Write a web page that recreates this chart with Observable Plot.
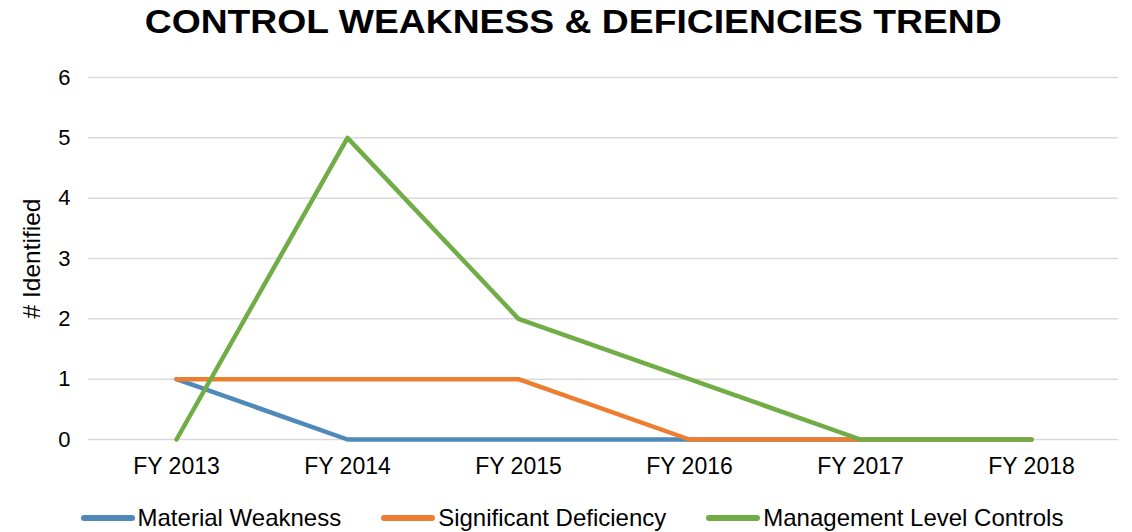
<!DOCTYPE html>
<html>
<head>
<meta charset="utf-8">
<script src="https://cdn.jsdelivr.net/npm/d3@7"></script>
<script src="https://cdn.jsdelivr.net/npm/@observablehq/plot@0.6"></script>
<style>
  html, body { margin: 0; padding: 0; background: #fff; }
  body { width: 1132px; height: 532px; position: relative; overflow: hidden; font-family: "Liberation Sans", Arial, sans-serif; color: #000; }
  #title { position: absolute; top: 3px; left: 0; width: 1146px; text-align: center; }
  #title span { display: inline-block; font-weight: bold; font-size: 33px; line-height: 38px; transform: scaleX(1.13); transform-origin: center; }
  #chart { position: absolute; top: 50px; left: 0; }
  #legend { position: absolute; top: 505px; left: 0; width: 1144px; display: flex; justify-content: center; gap: 40px; font-size: 24px; line-height: 26px; }
  .item { display: flex; align-items: center; }
  .sw { width: 54px; height: 5.5px; border-radius: 3px; margin-right: 3px; }
</style>
</head>
<body>
<div id="title"><span>CONTROL WEAKNESS &amp; DEFICIENCIES TREND</span></div>
<div id="chart"></div>
<div id="legend"></div>
<script>
const years = ["FY 2013", "FY 2014", "FY 2015", "FY 2016", "FY 2017", "FY 2018"];
const seriesNames = ["Material Weakness", "Significant Deficiency", "Management Level Controls"];
const seriesColors = ["#4e89ba", "#ed7d31", "#70ad47"];
const materialWeakness = [1, 0, 0, 0, 0, 0];
const significantDeficiency = [1, 1, 1, 0, 0, 0];
const managementLevelControls = [0, 5, 2, 1, 0, 0];
const yTicks = [0, 1, 2, 3, 4, 5, 6];

const seriesValues = [materialWeakness, significantDeficiency, managementLevelControls];
const data = [];
seriesNames.forEach((name, i) => {
  years.forEach((yr, j) => data.push({series: name, year: yr, value: seriesValues[i][j]}));
});

const chart = Plot.plot({
  width: 1132,
  height: 440,
  marginTop: 27,
  marginBottom: 51,
  marginLeft: 88,
  marginRight: 14,
  style: {fontFamily: "'Liberation Sans', Arial, sans-serif", fontSize: "22px", color: "#000", background: "#fff"},
  x: {type: "point", domain: years, padding: 0.5, label: null},
  y: {domain: [0, 6], ticks: yTicks, label: null},
  color: {domain: seriesNames, range: seriesColors},
  marks: [
    Plot.ruleY(yTicks, {stroke: "#d9d9d9", strokeWidth: 1.5}),
    Plot.axisY({ticks: yTicks, tickFormat: d3.format("d"), tickSize: 0, tickPadding: 18, fontSize: 22, label: null}),
    Plot.axisX({tickSize: 0, tickPadding: 18, fontSize: 23, label: null}),
    Plot.text(["# Identified"], {frameAnchor: "left", dx: -56, rotate: -90, textAnchor: "middle", fontSize: 24.5, text: d => d}),
    Plot.line(data, {x: "year", y: "value", z: "series", stroke: "series", strokeWidth: 4.5, strokeLinecap: "round", strokeLinejoin: "round"})
  ]
});
document.getElementById("chart").appendChild(chart);

const legend = document.getElementById("legend");
seriesNames.forEach((name, i) => {
  const item = document.createElement("div");
  item.className = "item";
  const sw = document.createElement("div");
  sw.className = "sw";
  sw.style.background = seriesColors[i];
  const label = document.createElement("span");
  label.textContent = name;
  item.appendChild(sw);
  item.appendChild(label);
  legend.appendChild(item);
});
</script>
</body>
</html>
